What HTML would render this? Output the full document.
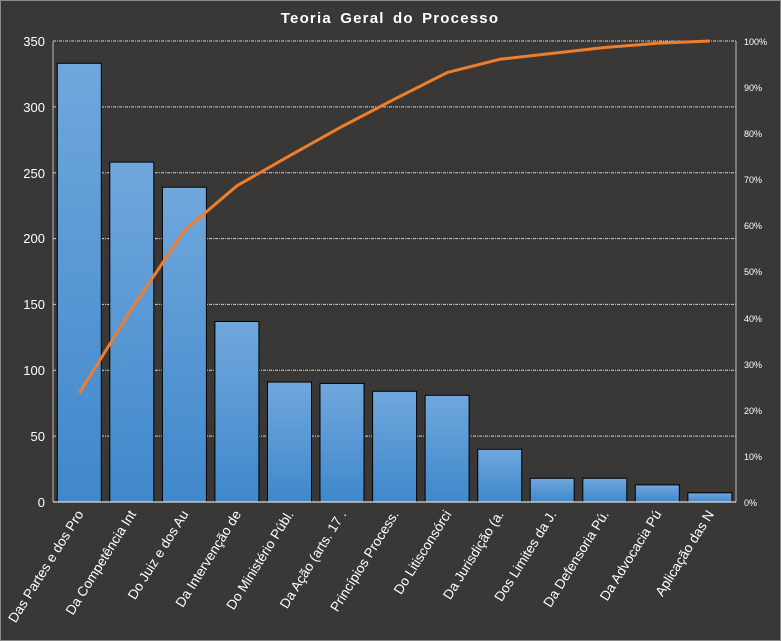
<!DOCTYPE html><html><head><meta charset="utf-8"><style>html,body{margin:0;padding:0;background:#3a3836}svg{display:block}text{font-family:"Liberation Sans","DejaVu Sans",sans-serif;fill:#fff}</style></head><body>
<svg width="781" height="641" viewBox="0 0 781 641">
<defs><linearGradient id="g" x1="0" y1="0" x2="0" y2="1"><stop offset="0" stop-color="#70a7dd"/><stop offset="1" stop-color="#3f88cb"/></linearGradient></defs>
<rect x="0.5" y="0.5" width="780" height="640" fill="#3a3836" stroke="#8a8a8a"/>
<text x="390" y="23" text-anchor="middle" font-size="15" font-weight="bold" letter-spacing="1.2" word-spacing="3">Teoria Geral do Processo</text>
<g stroke="#cfcfcf" stroke-width="1" stroke-dasharray="3,1,1,1">
<line x1="53" x2="736" y1="41" y2="41"/><line x1="53" x2="736" y1="106.9" y2="106.9"/><line x1="53" x2="736" y1="172.7" y2="172.7"/><line x1="53" x2="736" y1="238.6" y2="238.6"/><line x1="53" x2="736" y1="304.4" y2="304.4"/><line x1="53" x2="736" y1="370.3" y2="370.3"/><line x1="53" x2="736" y1="436.1" y2="436.1"/>
</g>
<g fill="url(#g)" stroke="#000" stroke-width="1">
<rect x="57.3" y="63.3" width="44" height="438.7"/>
<rect x="109.8" y="162.1" width="44" height="339.9"/>
<rect x="162.4" y="187.2" width="44" height="314.8"/>
<rect x="214.9" y="321.5" width="44" height="180.5"/>
<rect x="267.5" y="382.1" width="44" height="119.9"/>
<rect x="320" y="383.4" width="44" height="118.6"/>
<rect x="372.6" y="391.3" width="44" height="110.7"/>
<rect x="425.1" y="395.3" width="44" height="106.7"/>
<rect x="477.7" y="449.3" width="44" height="52.7"/>
<rect x="530.2" y="478.3" width="44" height="23.7"/>
<rect x="582.8" y="478.3" width="44" height="23.7"/>
<rect x="635.3" y="484.9" width="44" height="17.1"/>
<rect x="687.9" y="492.8" width="44" height="9.2"/>
</g>
<line x1="53" y1="41" x2="53" y2="502" stroke="#bbb"/>
<line x1="736" y1="41" x2="736" y2="502" stroke="#bbb"/>
<line x1="53" y1="502" x2="736" y2="502" stroke="#fff"/>
<polyline fill="none" stroke="#ee7d2c" stroke-width="3" stroke-linejoin="round" points="79.3,393.2 131.8,308.8 184.4,230.5 236.9,185.8 289.5,155.8 342,126.5 394.6,99.1 447.1,72.6 499.7,59.3 552.2,53.4 604.8,47.5 657.3,43.3 709.9,41"/>
<g font-size="13" text-anchor="end">
<text x="45" y="46">350</text><text x="45" y="112">300</text><text x="45" y="178">250</text><text x="45" y="243">200</text><text x="45" y="309">150</text><text x="45" y="375">100</text><text x="45" y="441">50</text><text x="45" y="507">0</text>
</g>
<g font-size="9">
<text x="744" y="45">100%</text><text x="744" y="91">90%</text><text x="744" y="137">80%</text><text x="744" y="183">70%</text><text x="744" y="229">60%</text><text x="744" y="275">50%</text><text x="744" y="322">40%</text><text x="744" y="368">30%</text><text x="744" y="414">20%</text><text x="744" y="460">10%</text><text x="744" y="506">0%</text>
</g>
<g font-size="13.6" text-anchor="end">
<text transform="translate(84,514) rotate(-58)">Das Partes e dos Pro</text>
<text transform="translate(136.5,514) rotate(-58)">Da Competência Int</text>
<text transform="translate(189,514) rotate(-58)">Do Juiz e dos Au</text>
<text transform="translate(241.6,514) rotate(-58)">Da Intervenção de</text>
<text transform="translate(294.1,514) rotate(-58)">Do Ministério Públ.</text>
<text transform="translate(346.7,514) rotate(-58)">Da Ação (arts. 17  .</text>
<text transform="translate(399.2,514) rotate(-58)">Princípios Process.</text>
<text transform="translate(451.8,514) rotate(-58)">Do Litisconsórci</text>
<text transform="translate(504.3,514) rotate(-58)">Da Jurisdição (a.</text>
<text transform="translate(556.9,514) rotate(-58)">Dos Limites da J.</text>
<text transform="translate(609.4,514) rotate(-58)">Da Defensoria Pú.</text>
<text transform="translate(662,514) rotate(-58)">Da Advocacia Pú</text>
<text transform="translate(714.5,514) rotate(-58)">Aplicação das N</text>
</g>
</svg></body></html>
